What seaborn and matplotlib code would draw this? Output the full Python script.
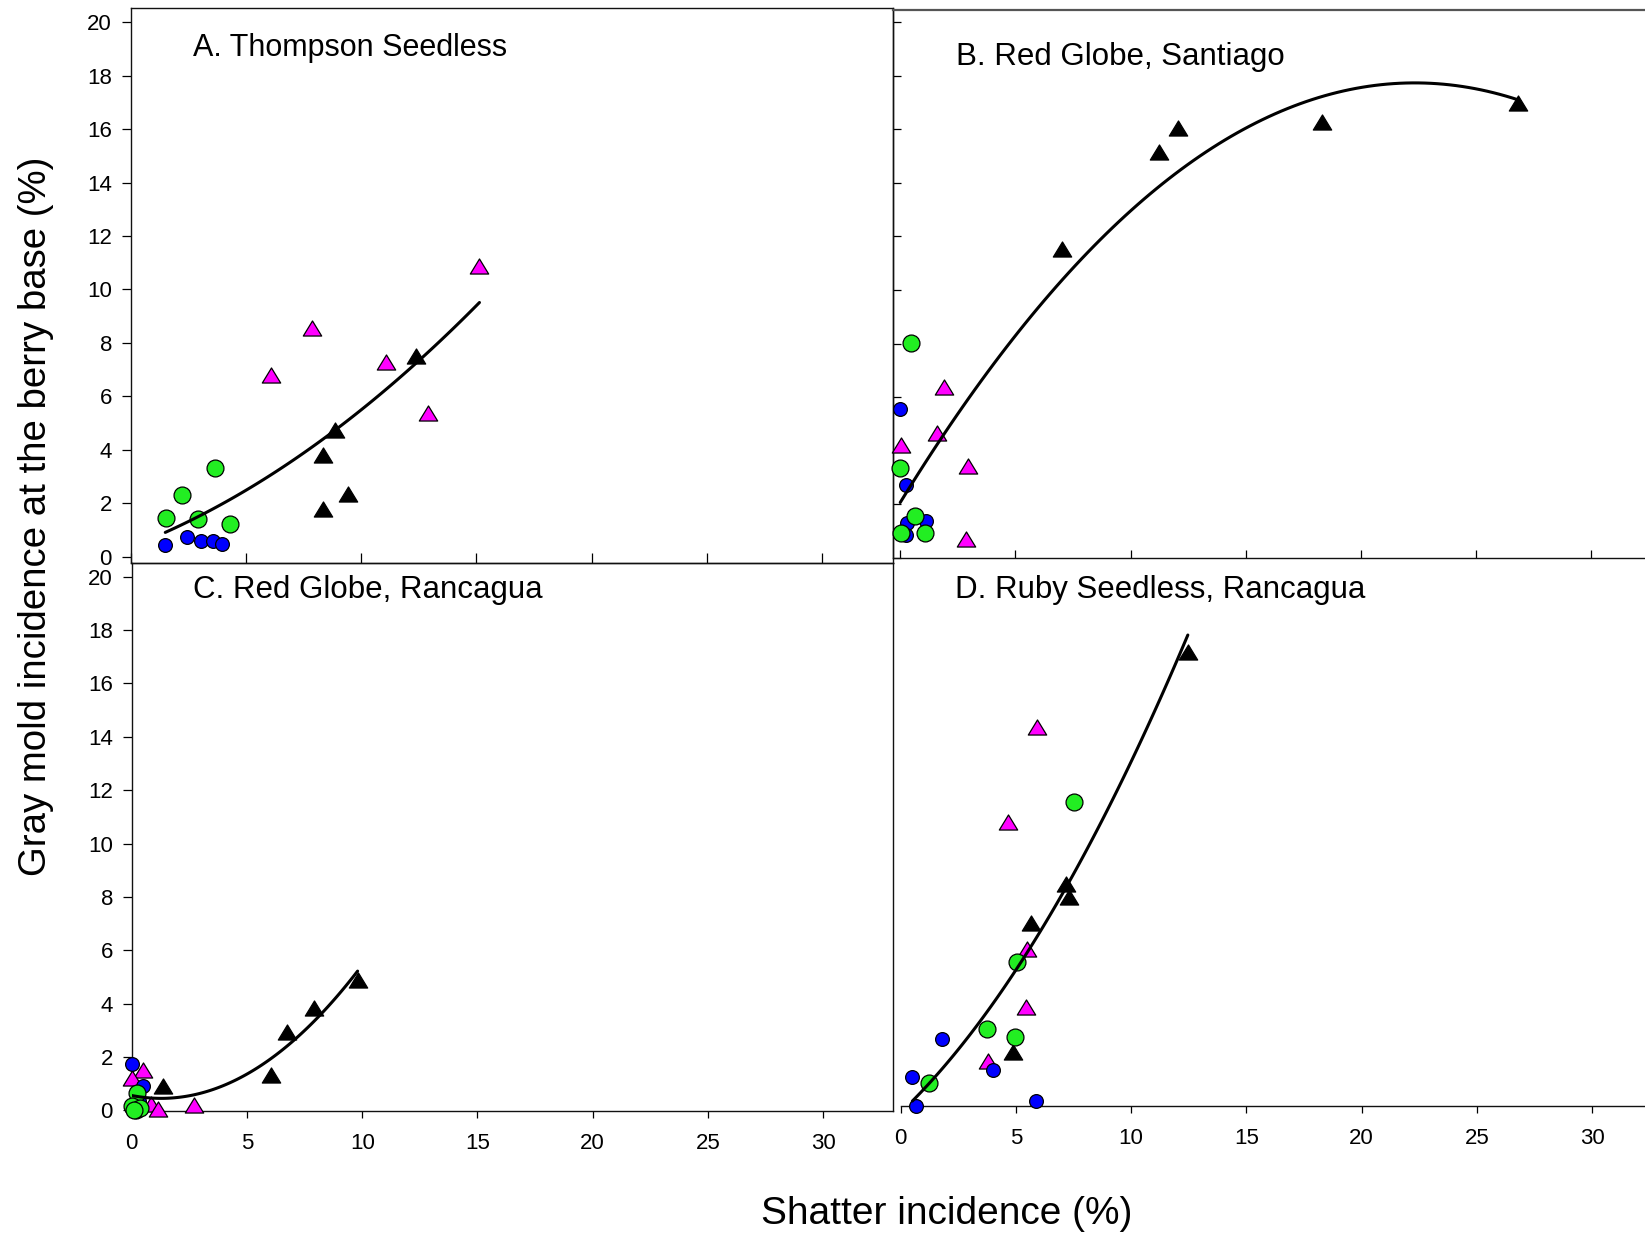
import numpy as np
import pandas as pd
import matplotlib
matplotlib.use("Agg")
import matplotlib.pyplot as plt
import matplotlib.path as mpath
from matplotlib import font_manager as fm
import seaborn as sns

# ---------------------------------------------------------------------------
# Shatter incidence (%) vs gray mold incidence at the berry base (%)
# ---------------------------------------------------------------------------
# A. Thompson Seedless
a_blue_x = [1.50, 2.44, 3.07, 3.57, 3.94]
a_blue_y = [0.42, 0.72, 0.60, 0.60, 0.48]
a_green_x = [1.53, 2.24, 2.91, 3.65, 4.30]
a_green_y = [1.45, 2.31, 1.41, 3.31, 1.22]
a_magenta_x = [6.10, 7.86, 11.08, 12.91, 15.13]
a_magenta_y = [6.81, 8.55, 7.27, 5.36, 10.89]
a_black_x = [8.36, 8.36, 8.85, 9.42, 12.38]
a_black_y = [1.77, 3.81, 4.73, 2.35, 7.52]

# B. Red Globe, Santiago
b_blue_x = [0.01, 0.25, 0.29, 1.13, 0.26]
b_blue_y = [5.54, 2.70, 1.28, 1.37, 0.85]
b_green_x = [0.47, 0.01, 0.65, 0.04, 1.08]
b_green_y = [8.03, 3.36, 1.57, 0.91, 0.91]
b_magenta_x = [1.92, 1.59, 0.03, 2.96, 2.86]
b_magenta_y = [6.37, 4.64, 4.22, 3.42, 0.70]
b_black_x = [26.83, 18.29, 12.04, 11.25, 7.01]
b_black_y = [16.98, 16.29, 16.06, 15.16, 11.53]

# C. Red Globe, Rancagua
c_blue_x = [0.00, 0.50, 0.10, 0.30, 0.00]
c_blue_y = [1.74, 0.93, 0.15, 0.35, 0.05]
c_green_x = [0.22, 0.00, 0.20, 0.35, 0.08]
c_green_y = [0.66, 0.15, 0.02, 0.10, 0.00]
c_magenta_x = [0.47, 0.00, 0.82, 1.15, 2.71]
c_magenta_y = [1.50, 1.21, 0.26, 0.04, 0.19]
c_black_x = [9.80, 7.90, 6.75, 6.03, 1.37]
c_black_y = [4.90, 3.83, 2.95, 1.34, 0.93]

# D. Ruby Seedless, Rancagua
d_blue_x = [0.66, 0.51, 1.78, 4.02, 5.87]
d_blue_y = [0.00, 1.10, 2.50, 1.34, 0.17]
d_green_x = [1.23, 3.74, 4.96, 5.04, 7.53]
d_green_y = [0.85, 2.88, 2.59, 5.39, 11.36]
d_magenta_x = [3.80, 5.43, 5.47, 5.90, 4.67]
d_magenta_y = [1.69, 3.71, 5.85, 14.15, 10.60]
d_black_x = [4.89, 5.64, 7.32, 7.18, 12.46]
d_black_y = [2.03, 6.82, 7.80, 8.29, 16.96]

panel_titles = ["A. Thompson Seedless", "B. Red Globe, Santiago",
                "C. Red Globe, Rancagua", "D. Ruby Seedless, Rancagua"]
x_ticks = [0, 5, 10, 15, 20, 25, 30]
y_ticks = [0, 2, 4, 6, 8, 10, 12, 14, 16, 18, 20]
y_label = "Gray mold incidence at the berry base (%)"
x_label = "Shatter incidence (%)"


def panel_frame(bx, by, gx, gy, mx, my, kx, ky):
    parts = []
    for grp, xs, ys in (("black", kx, ky), ("magenta", mx, my),
                        ("blue", bx, by), ("green", gx, gy)):
        parts.append(pd.DataFrame({"shatter": xs, "mold": ys, "group": grp}))
    return pd.concat(parts, ignore_index=True)


frames = [
    panel_frame(a_blue_x, a_blue_y, a_green_x, a_green_y,
                a_magenta_x, a_magenta_y, a_black_x, a_black_y),
    panel_frame(b_blue_x, b_blue_y, b_green_x, b_green_y,
                b_magenta_x, b_magenta_y, b_black_x, b_black_y),
    panel_frame(c_blue_x, c_blue_y, c_green_x, c_green_y,
                c_magenta_x, c_magenta_y, c_black_x, c_black_y),
    panel_frame(d_blue_x, d_blue_y, d_green_x, d_green_y,
                d_magenta_x, d_magenta_y, d_black_x, d_black_y),
]

# ---------------------------------------------------------------------------
sns.set_theme(style="ticks")
names = {f.name for f in fm.fontManager.ttflist}
REG = "Liberation Sans" if "Liberation Sans" in names else "DejaVu Sans"
plt.rcParams["font.family"] = [REG, "DejaVu Sans"]
plt.rcParams["text.color"] = "black"
plt.rcParams["xtick.color"] = "black"
plt.rcParams["ytick.color"] = "black"
plt.rcParams["xtick.labelcolor"] = "black"
plt.rcParams["ytick.labelcolor"] = "black"

W, H = 1645, 1236
fig = plt.figure(figsize=(W / 100, H / 100), dpi=100)
fig.patch.set_facecolor("white")


def rect(l, t, r, b):
    return [l / W, 1 - b / H, (r - l) / W, (b - t) / H]


ax_a = fig.add_axes(rect(130.7, 8.4, 893.0, 563.3))
ax_b = fig.add_axes(rect(893.0, 10.0, 1680.0, 557.7))
ax_c = fig.add_axes(rect(131.7, 563.3, 893.3, 1111.0))
ax_d = fig.add_axes(rect(900.6, 563.3, 1680.0, 1106.0))
axes = [ax_a, ax_b, ax_c, ax_d]

tri = mpath.Path([(0, 0.82), (-1, -0.82), (1, -0.82), (0, 0.82)],
                 [mpath.Path.MOVETO, mpath.Path.LINETO, mpath.Path.LINETO,
                  mpath.Path.CLOSEPOLY])
styles = {
    "black": dict(marker=tri, s=175, color="black"),
    "magenta": dict(marker=tri, s=175, color="#FF00FF"),
    "blue": dict(marker="o", s=98, color="#0000FF"),
    "green": dict(marker="o", s=148, color="#22EE22"),
}

for ax, df in zip(axes, frames):
    ax.set_facecolor("none")
    sns.regplot(data=df, x="shatter", y="mold", order=2, ci=None,
                scatter=False, truncate=True, ax=ax,
                line_kws=dict(color="black", lw=2.2, zorder=5))
    for grp in ("black", "magenta", "blue", "green"):
        sub = df[df["group"] == grp]
        sns.scatterplot(data=sub, x="shatter", y="mold", ax=ax,
                        edgecolor="black", linewidth=0.9, clip_on=False,
                        zorder=4, legend=False, **styles[grp])
    ax.set_xlabel("")
    ax.set_ylabel("")
    ax.set_xticks(x_ticks)
    ax.set_yticks(y_ticks)
    for sp in ax.spines.values():
        sp.set_linewidth(1.0)
        sp.set_color("#111111")

# axis ranges
ax_a.set_xlim(0, 33.07)
ax_a.set_ylim(-0.247, 20.516)
ax_b.set_xlim(-0.304, 33.84)
ax_b.set_ylim(0, 20.46)
ax_c.set_xlim(0, 33.04)
ax_c.set_ylim(-0.019, 20.50)
ax_d.set_xlim(0, 33.81)
ax_d.set_ylim(0, 20.27)

# A: labelled y axis, inward unlabelled x ticks
ax_a.tick_params(axis="x", direction="in", length=7, width=0.9,
                 labelbottom=False)
ax_a.tick_params(axis="y", direction="out", length=6.5, width=0.9, pad=7,
                 labelsize=16)

# B: inward ticks on both axes, no labels
ax_b.tick_params(axis="both", direction="in", length=5.5, width=0.9,
                 labelbottom=False, labelleft=False)
ax_b.spines["right"].set_visible(False)
ax_b.spines["top"].set_linewidth(1.6)
ax_b.spines["top"].set_color("#555555")

# C: labelled x and y axes
ax_c.tick_params(axis="x", direction="out", length=5, width=0.9, pad=11,
                 labelsize=16)
ax_c.tick_params(axis="y", direction="out", length=6.5, width=0.9, pad=7,
                 labelsize=16)

# D: only the bottom axis is drawn
ax_d.tick_params(axis="x", direction="out", length=5, width=0.9, pad=11,
                 labelsize=16)
ax_d.tick_params(axis="y", left=False, labelleft=False)
for side in ("left", "top", "right"):
    ax_d.spines[side].set_visible(False)

# panel titles
fig.text(193 / W, 1 - 48 / H, panel_titles[0], fontsize=22,
         ha="left", va="center")
fig.text(956.5 / W, 1 - 57.4 / H, panel_titles[1], fontsize=22.5,
         ha="left", va="center")
fig.text(193.3 / W, 1 - 590 / H, panel_titles[2], fontsize=22.5,
         ha="left", va="center")
fig.text(955 / W, 1 - 590 / H, panel_titles[3], fontsize=22.5,
         ha="left", va="center")

# shared axis labels
fig.text(35.6 / W, 1 - 516 / H, y_label, rotation=90, fontsize=27.6,
         ha="center", va="center")
fig.text(947 / W, 1 - 1213.6 / H, x_label, fontsize=28,
         ha="center", va="center")

fig.savefig("out.png", dpi=100, facecolor="white")
